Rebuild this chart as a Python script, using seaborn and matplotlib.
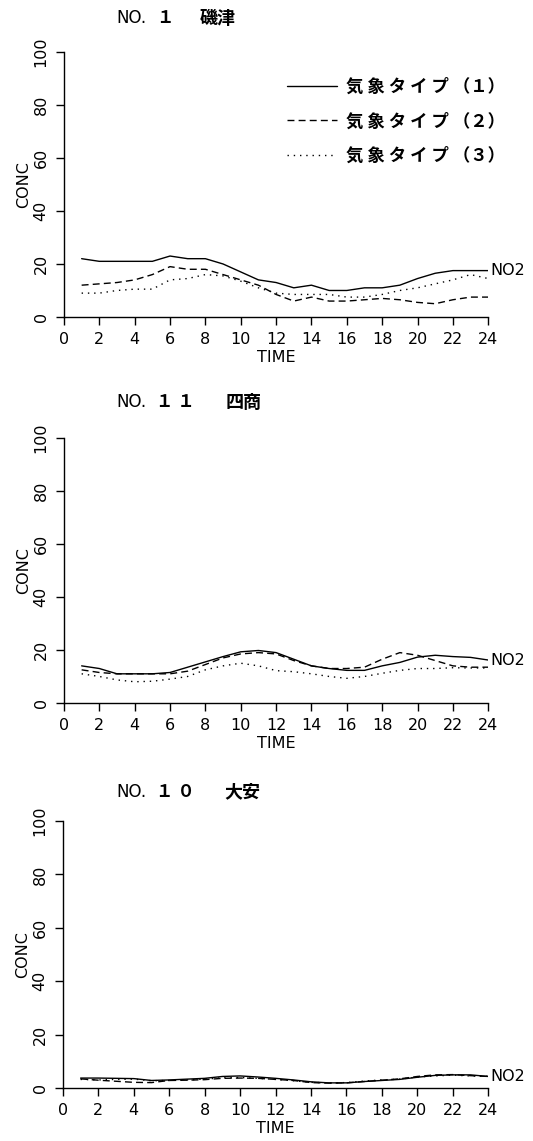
import pandas as pd
import matplotlib.pyplot as plt
import seaborn as sns

# Hours of the day
hours = list(range(1, 25))

# NO.1 磯津
isozu_1 = [22, 21, 21, 21, 21, 23, 22, 22, 20, 17, 14, 13, 11, 12, 10, 10, 11, 11, 12, 14.5, 16.5, 17.5, 17.5, 17.5]
isozu_2 = [12, 12.5, 13, 14, 16, 19, 18, 18, 16, 14, 12, 8.5, 6, 7.5, 6, 6, 6.5, 7, 6.5, 5.5, 5, 6.5, 7.5, 7.5]
isozu_3 = [9, 9, 10, 10.5, 10.5, 14, 14.5, 16, 15.5, 13.5, 11, 9, 8.5, 8.5, 8.5, 7.5, 7.5, 8.5, 10, 11, 12.5, 14, 16, 14.5]

# NO.11 四商
yonsho_1 = [14, 13, 11, 11, 11, 11.5, 13.5, 15.5, 17.5, 19.3, 19.8, 19, 16.5, 14, 13, 12.3, 12.3, 14, 15.3, 17.3, 18, 17.5, 17.2, 16.2]
yonsho_2 = [12.5, 11.5, 11, 11, 11, 11, 12, 14.5, 17, 18.5, 19, 18.5, 16, 14, 13, 13, 13.5, 16.5, 19, 18, 16, 14, 13.5, 13.5]
yonsho_3 = [11, 10, 8.7, 8, 8.2, 9, 10, 12.5, 14, 15, 14, 12.2, 11.8, 11, 10, 9.3, 10, 11.2, 12.3, 13, 13, 13.3, 13.2, 13.2]

# NO.10 大安
daian_1 = [3.7, 3.7, 3.6, 3.5, 2.8, 3, 3.3, 3.6, 4.3, 4.5, 4.1, 3.6, 3, 2.3, 1.9, 1.9, 2.4, 2.8, 3.2, 4, 4.7, 4.9, 4.9, 4.3]
daian_2 = [3.4, 2.9, 2.5, 2.1, 2, 2.8, 2.9, 3.1, 3.6, 3.7, 3.6, 3.2, 2.8, 2, 1.8, 1.9, 2.4, 2.9, 3.4, 4.3, 4.9, 5, 4.6, 4.3]
daian_3 = [3.2, 3, 3.2, 3.3, 2.7, 2.8, 3, 3.3, 3.8, 3.9, 3.6, 3.2, 2.7, 2.1, 1.9, 2, 2.6, 3, 3.3, 4.1, 4.5, 4.8, 4.5, 4.4]

stations = [
    ("１", "磯津", [isozu_1, isozu_2, isozu_3]),
    ("１ １", "四商", [yonsho_1, yonsho_2, yonsho_3]),
    ("１ ０", "大安", [daian_1, daian_2, daian_3]),
]
type_labels = ["気 象 タ イ プ （１）", "気 象 タ イ プ （２）", "気 象 タ イ プ （３）"]
line_styles = ["-", (0, (5, 3)), (0, (1, 3.5))]

sns.set_theme(style="ticks")
plt.rcParams['font.family'] = ['DejaVu Sans']
plt.rcParams['text.color'] = 'black'
plt.rcParams['axes.labelcolor'] = 'black'
plt.rcParams['xtick.color'] = 'black'
plt.rcParams['ytick.color'] = 'black'
jp_font = ['Noto Sans CJK JP', 'DejaVu Sans']

fig = plt.figure(figsize=(5.33, 11.41), dpi=100)

# Axes boxes (left, bottom, width, height)
boxes = [
    [0.120, 0.7222, 0.796, 0.2322],
    [0.120, 0.3839, 0.796, 0.2323],
    [0.118, 0.0465, 0.798, 0.2340],
]
title_y = [1 - 18 / 1141, 1 - 402 / 1141, 1 - 792 / 1141]
name_x = [200 / 533, 226 / 533, 224 / 533]

for i, (num, name, series) in enumerate(stations):
    ax = fig.add_axes(boxes[i])
    for vals, ls, lab in zip(series, line_styles, type_labels):
        df = pd.DataFrame({"TIME": hours, "CONC": vals})
        sns.lineplot(data=df, x="TIME", y="CONC", ax=ax, color="black",
                     linewidth=1.0, linestyle=ls, label=lab)

    ax.set_xlim(0, 24)
    ax.set_ylim(0, 100)
    ax.set_xticks(range(0, 25, 2))
    ax.set_yticks(range(0, 101, 20))
    ax.tick_params(axis="both", length=6, width=1, color="black", labelsize=11.5, pad=5)
    for t in ax.get_yticklabels():
        t.set_rotation(90)
        t.set_va("center")
    ax.set_xlabel("TIME", fontsize=11.5, labelpad=2)
    ax.set_ylabel("CONC", fontsize=11.5, labelpad=2)
    sns.despine(ax=ax)
    for s in ["left", "bottom"]:
        ax.spines[s].set_color("black")
        ax.spines[s].set_linewidth(1.0)

    ax.text(24.1, series[0][-1], "NO2", fontsize=11.5, va="center", ha="left")

    if i == 0:
        ax.legend(loc="upper left", bbox_to_anchor=(0.505, 0.935), frameon=False,
                  prop={"family": jp_font, "weight": "bold", "size": 12.5},
                  handlelength=2.9, handletextpad=0.5, labelspacing=0.95,
                  borderpad=0)
    else:
        ax.get_legend().remove()

    # Station title
    fig.text(116 / 533, title_y[i], "NO.", fontsize=12, va="center", ha="left")
    fig.text(156 / 533, title_y[i], num, fontsize=12.5, va="center", ha="left",
             family=jp_font, fontweight="bold")
    fig.text(name_x[i], title_y[i], name, fontsize=13, va="center", ha="left",
             family=jp_font, fontweight="bold")

plt.savefig("out.png", dpi=100)
